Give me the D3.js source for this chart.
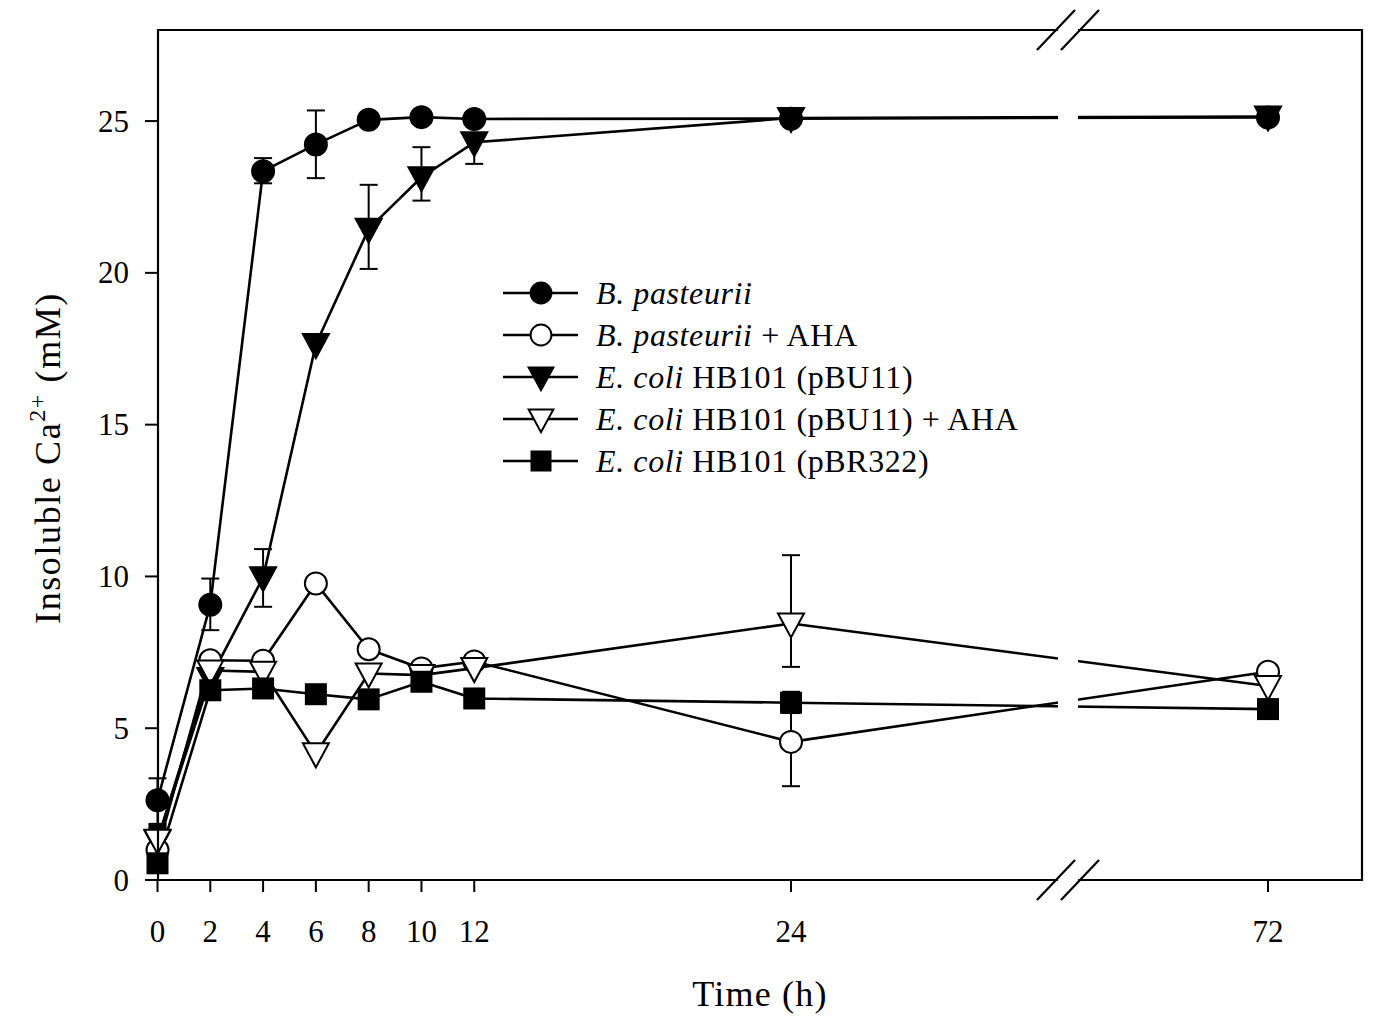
<!DOCTYPE html>
<html><head><meta charset="utf-8">
<script src="https://cdn.jsdelivr.net/npm/d3@7/dist/d3.min.js"></script>
<style>body{margin:0;background:#fff}svg{display:block}text{font-family:"Liberation Serif","Times New Roman",serif;fill:#000}</style>
</head><body>
<svg id="c" width="1382" height="1023"></svg>
<script>
// ---- data ----
const times = [0, 2, 4, 6, 8, 10, 12, 24, 72];
const xTicks = [0, 2, 4, 6, 8, 10, 12, 24, 72];
const yTicks = [0, 5, 10, 15, 20, 25];
const seriesNames = ["B. pasteurii", "B. pasteurii + AHA", "E. coli HB101 (pBU11)", "E. coli HB101 (pBU11) + AHA", "E. coli HB101 (pBR322)"];
const bPasteurii      = [2.63, 9.07, 23.35, 24.23, 25.04, 25.13, 25.07, 25.08, 25.12];
const bPasteuriiAHA   = [0.99, 7.24, 7.22, 9.77, 7.6, 6.97, 7.2, 4.55, 6.86];
const pBU11           = [1.3, 6.65, 9.97, 17.65, 21.45, 23.15, 24.3, 25.1, 25.15];
const pBU11AHA        = [1.32, 6.9, 6.86, 4.17, 6.8, 6.75, 6.98, 8.45, 6.39];
const pBR322          = [0.55, 6.25, 6.31, 6.12, 5.95, 6.53, 5.98, 5.84, 5.63];
// error bars: [time, low, high]
const errBPasteurii    = [[0, 1.85, 3.35], [2, 8.23, 9.93], [4, 22.95, 23.78], [6, 23.12, 25.35]];
const errBPasteuriiAHA = [[24, 3.09, 6.0]];
const errPBU11         = [[0, 1.7, 1.8], [4, 9.0, 10.9], [8, 20.13, 22.9], [10, 22.38, 24.14], [12, 23.59, 24.5]];
const errPBU11AHA      = [[0, 1.68, 1.75], [24, 7.02, 10.7]];
const errPBR322        = [[24, 5.5, 6.2]];

const seriesValues = [bPasteurii, bPasteuriiAHA, pBU11, pBU11AHA, pBR322];
const seriesErrs = [errBPasteurii, errBPasteuriiAHA, errPBU11, errPBU11AHA, errPBR322];
const seriesMarkers = ["circle", "circle", "tri", "tri", "square"];
const seriesFilled = [true, false, true, false, true];
const drawOrder = [2, 0, 1, 3, 4];

// ---- layout ----
const L = 158, R = 1362, T = 30, B = 880;
const breakX0 = 1058, breakX1 = 1078;
const svg = d3.select("#c");
const x = d3.scaleLinear().domain([0, 24, 72]).range([157.5, 791, 1268]);
const y = d3.scaleLinear().domain([0, 28]).range([B, T]);

const lineW = 2.6;
// data lines
const line = d3.line().x((d, i) => x(times[i])).y(d => y(d));
const gLines = svg.append("g");
seriesValues.forEach(vals => {
  gLines.append("path").attr("d", line(vals)).attr("fill", "none")
    .attr("stroke", "#000").attr("stroke-width", lineW).attr("stroke-linejoin", "round");
});
// break mask
svg.append("rect").attr("x", breakX0).attr("y", T + 2).attr("width", breakX1 - breakX0).attr("height", B - T - 4).attr("fill", "#fff");

// error bars
const gErr = svg.append("g").attr("stroke", "#000").attr("stroke-width", 2);
seriesErrs.forEach(errs => {
  errs.forEach(([t, lo, hi]) => {
    const cx = x(t);
    gErr.append("line").attr("x1", cx).attr("x2", cx).attr("y1", y(lo)).attr("y2", y(hi));
    [lo, hi].forEach(v => gErr.append("line").attr("x1", cx - 9).attr("x2", cx + 9).attr("y1", y(v)).attr("y2", y(v)));
  });
});

// markers
function marker(g, type, filled, cx, cy, s) {
  let el;
  if (type === "circle") {
    el = g.append("circle").attr("cx", cx).attr("cy", cy).attr("r", 11 * s);
  } else if (type === "tri") {
    const w = 13 * s, h = 24 * s;
    el = g.append("path").attr("d", `M${cx - w},${cy - h * 0.42}L${cx + w},${cy - h * 0.42}L${cx},${cy + h * 0.58}Z`);
  } else {
    const h = 10 * s;
    el = g.append("rect").attr("x", cx - h).attr("y", cy - h).attr("width", 2 * h).attr("height", 2 * h);
  }
  el.attr("fill", filled ? "#000" : "#fff").attr("stroke", "#000").attr("stroke-width", 2);
}
const gMarks = svg.append("g");
drawOrder.forEach(si => {
  seriesValues[si].forEach((v, i) => marker(gMarks, seriesMarkers[si], seriesFilled[si], x(times[i]), y(v), 1));
});

// axes frame with break gaps
const gAx = svg.append("g").attr("stroke", "#000").attr("stroke-width", 2.2).attr("fill", "none");
gAx.append("path").attr("d", `M${breakX0},${T}L${L},${T}L${L},${B}L${breakX0},${B}`);
gAx.append("path").attr("d", `M${breakX1},${T}L${R},${T}L${R},${B}L${breakX1},${B}`);
// break marks
[T, B].forEach(yy => {
  [-12, 12].forEach(dx => {
    const cx = (breakX0 + breakX1) / 2 + dx;
    gAx.append("line").attr("x1", cx - 19).attr("y1", yy + 20).attr("x2", cx + 19).attr("y2", yy - 20).attr("stroke-width", 2.2);
  });
});

// y ticks
const gY = svg.append("g");
yTicks.forEach(v => {
  gY.append("line").attr("x1", L - 13).attr("x2", L).attr("y1", y(v)).attr("y2", y(v)).attr("stroke", "#000").attr("stroke-width", 2);
  gY.append("text").attr("x", 129).attr("y", y(v) + 10.5).attr("text-anchor", "end").attr("font-size", 31).text(v);
});
// x ticks
const gX = svg.append("g");
xTicks.forEach(v => {
  gX.append("line").attr("x1", x(v)).attr("x2", x(v)).attr("y1", B).attr("y2", B + 12).attr("stroke", "#000").attr("stroke-width", 2);
  gX.append("text").attr("x", x(v)).attr("y", 942).attr("text-anchor", "middle").attr("font-size", 31).text(v);
});

// axis titles
svg.append("text").attr("x", 760).attr("y", 1006).attr("text-anchor", "middle").attr("font-size", 36)
  .attr("letter-spacing", 1.2).text("Time (h)");
const yt = svg.append("text").attr("transform", "translate(60,458) rotate(-90)").attr("text-anchor", "middle")
  .attr("font-size", 36).attr("letter-spacing", 1.6);
yt.append("tspan").text("Insoluble Ca");
yt.append("tspan").attr("font-size", 24).attr("dy", -15).text("2+");
yt.append("tspan").attr("dy", 15).text(" (mM)");

// legend
const legY0 = 293, legDy = 42;
const gLeg = svg.append("g");
seriesNames.forEach((name, i) => {
  const ly = legY0 + i * legDy;
  gLeg.append("line").attr("x1", 503).attr("x2", 578).attr("y1", ly).attr("y2", ly).attr("stroke", "#000").attr("stroke-width", lineW);
  marker(gLeg, seriesMarkers[i], seriesFilled[i], 541, ly, 0.95);
  const t = gLeg.append("text").attr("x", 596).attr("y", ly + 11).attr("font-size", 32).attr("letter-spacing", 0.6);
  const m = name.match(/^(B\. pasteurii|E\. coli)(.*)$/);
  t.append("tspan").attr("font-style", "italic").text(m[1]);
  if (m[2]) t.append("tspan").text(m[2]);
});
</script>
</body></html>
